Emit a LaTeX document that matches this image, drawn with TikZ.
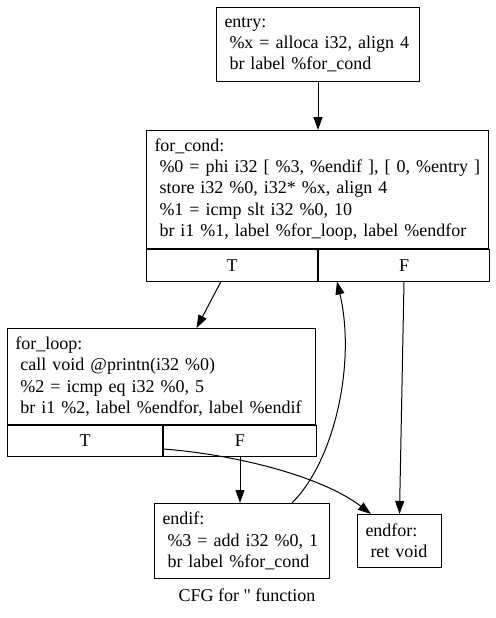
\documentclass[tikz,border=0pt]{standalone}
\usepackage{fontspec}
\setmainfont{Liberation Serif}
\usetikzlibrary{arrows.meta,positioning,calc}

\newcommand{\indt}{\hspace*{5pt}}

\begin{document}
\begin{tikzpicture}[
    x=1pt, y=-1pt,
    every node/.style={font=\fontsize{18}{21.4}\selectfont},
    block/.style={draw,line width=1pt,align=left,inner xsep=8pt,inner ysep=0pt,anchor=north west},
    port/.style={draw,line width=1pt,inner sep=0pt,anchor=north west},
    flow/.style={line width=1pt,-{Triangle[length=13pt,width=9pt]}}
  ]
  \useasboundingbox (0,0) rectangle (495,618);

  % basic blocks
  \node[block,text width=187pt,minimum height=74pt] (entry) at (216,7)
    {entry:\\\indt\%x = alloca i32, align 4\\\indt br label \%for\_cond};
  \node[block,text width=326pt,minimum height=118pt] (cond) at (146,130)
    {for\_cond:\\\indt\%0 = phi i32 [ \%3, \%endif ], [ 0, \%entry ]\\
     \indt store i32 \%0, i32* \%x, align 4\\\indt\%1 = icmp slt i32 \%0, 10\\
     \indt br i1 \%1, label \%for\_loop, label \%endfor};
  \node[port,minimum width=171pt,minimum height=31.5pt] (condT) at (cond.south west) {T};
  \node[port,minimum width=171pt,minimum height=31.5pt] (condF) at (condT.north east) {F};

  \node[block,text width=292pt,minimum height=96pt] (loop) at (7,328)
    {for\_loop:\\\indt call void @printn(i32 \%0)\\\indt\%2 = icmp eq i32 \%0, 5\\
     \indt br i1 \%2, label \%endfor, label \%endif};
  \node[port,minimum width=155pt,minimum height=31pt] (loopT) at (loop.south west) {T};
  \node[port,minimum width=153pt,minimum height=31pt] (loopF) at (loopT.north east) {F};

  \node[block,text width=159pt,minimum height=75pt] (endif) at (154,503)
    {endif:\\\indt\%3 = add i32 \%0, 1\\\indt br label \%for\_cond};
  \node[block,text width=68pt,minimum height=53pt] (endfor) at (357,514)
    {endfor:\\\indt ret void};

  \node (title) at (247,595) {CFG for \textquotedbl\ function};

  % edges
  \draw[flow] (entry.south) -- (entry.south |- cond.north);
  \draw[flow] ($(condT.south)+(-11,0)$) -- ($(loop.north)+(35,0)$);
  \draw[flow] (condF.south) -- (endfor.north);
  \draw[flow] (loopF.south) -- ($(endif.north)+(-2,0)$);
  \draw[flow] ($(loopT.south east)+(0,-8)$)
    .. controls ($(loopT.south east)+(68,-3)$) and ($(endfor.north west)+(-37,-39)$)
    .. ($(endfor.north west)+(14,0)$);
  \draw[flow] ($(endif.north west)+(138,0)$)
    .. controls ($(endif.north west)+(181,-43)$) and ($(condF.south west)+(38,81)$)
    .. ($(condF.south west)+(19,0)$);
\end{tikzpicture}
\end{document}
